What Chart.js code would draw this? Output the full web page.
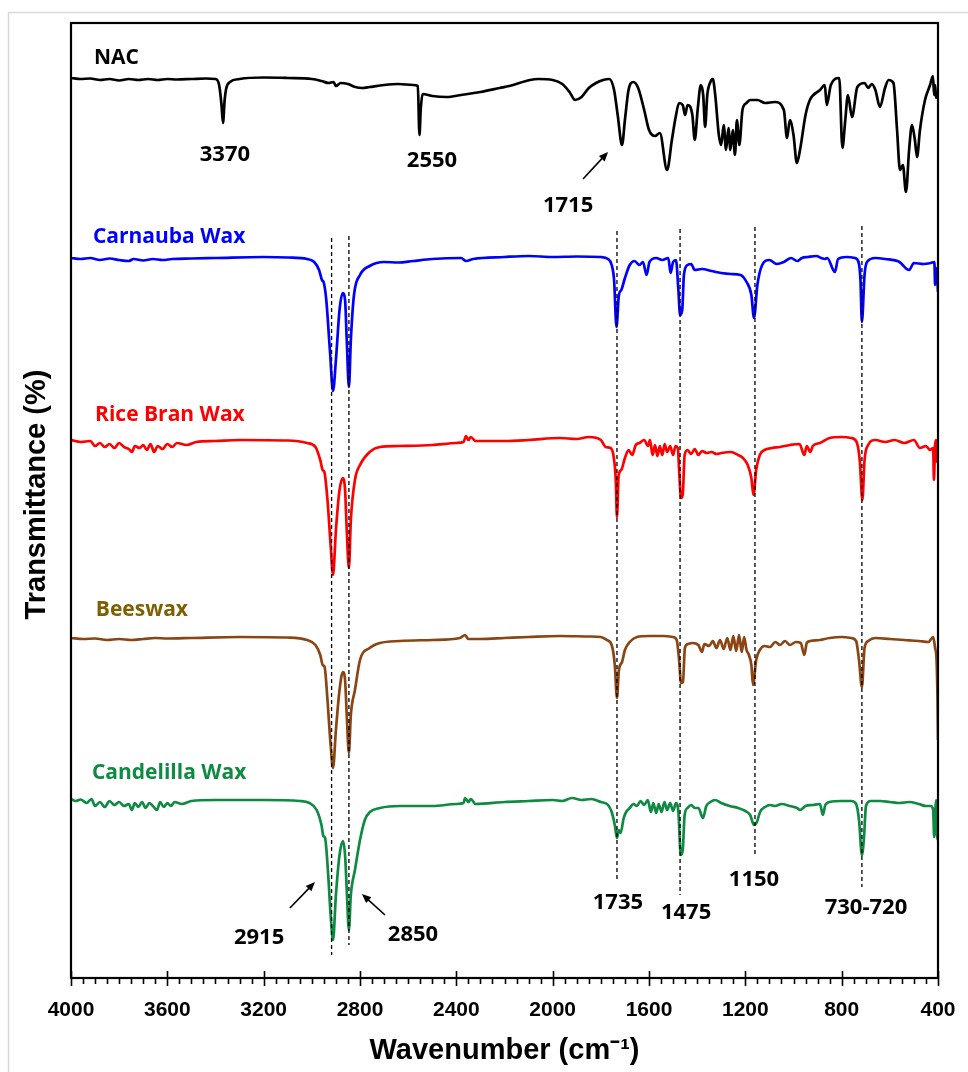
<!DOCTYPE html>
<html>
<head>
<meta charset="utf-8">
<script src="https://cdn.jsdelivr.net/npm/chart.js@4.4.1/dist/chart.umd.min.js"></script>
<style>
  html, body { margin: 0; padding: 0; background: #fff; }
  #wrap { width: 968px; height: 1072px; }
</style>
</head>
<body>
<div id="wrap"><canvas id="ftir" width="968" height="1072"></canvas></div>
<script>
// FTIR spectra, stacked (arbitrary transmittance units), [wavenumber, value]
const nac = [
  [4000,90.0],[3960,89.9],[3920,89.95],[3880,89.8],[3840,89.9],[3800,89.75],[3760,89.9],[3720,89.8],
  [3680,89.9],[3640,89.8],[3600,89.9],[3560,89.85],[3500,89.9],[3440,89.95],[3400,89.9],[3385,89.3],
  [3375,87.3],[3369,85.5],[3362,87.8],[3355,89.0],[3340,89.6],[3300,89.9],[3200,90.05],[3100,90.0],
  [3000,89.9],[2960,89.7],[2930,89.5],[2910,89.6],[2900,89.2],[2880,89.5],[2850,89.4],[2820,89.1],
  [2790,89.0],[2760,89.1],[2700,89.3],[2640,89.4],[2580,89.3],[2560,89.2],[2553,84.3],[2548,86.8],
  [2540,88.4],[2500,88.2],[2440,88.1],[2380,88.3],[2300,88.6],[2220,89.0],[2180,89.2],[2094,89.8],
  [2060,89.9],[2000,89.8],[1960,89.4],[1930,88.6],[1907,87.8],[1880,88.1],[1850,89.0],[1820,89.5],
  [1790,89.8],[1765,89.9],[1745,88.8],[1730,86.3],[1712,83.3],[1700,85.8],[1685,88.8],[1665,89.6],
  [1645,89.0],[1620,86.8],[1600,84.8],[1575,84.2],[1555,84.5],[1525,80.8],[1505,83.8],[1490,86.0],
  [1475,87.5],[1460,87.3],[1450,86.3],[1440,87.3],[1420,86.3],[1410,83.8],[1398,86.8],[1385,89.3],
  [1375,88.3],[1367,85.1],[1358,88.3],[1345,89.6],[1335,89.9],[1325,88.3],[1310,84.3],[1300,83.3],
  [1290,85.3],[1280,82.8],[1270,85.0],[1262,82.8],[1252,84.8],[1243,82.3],[1235,85.8],[1225,83.3],
  [1212,86.8],[1195,87.5],[1180,87.8],[1150,87.8],[1118,87.5],[1077,87.6],[1040,86.8],[1027,84.0],
  [1015,85.8],[1000,84.3],[986,81.5],[973,82.8],[950,86.3],[932,87.8],[890,88.8],[870,89.3],
  [862,87.3],[845,89.3],[810,90.0],[797,83.0],[785,85.8],[774,88.3],[757,86.1],[735,89.1],
  [705,89.5],[690,89.0],[675,89.4],[660,88.8],[641,87.1],[620,89.0],[605,89.8],[585,89.5],
  [570,84.8],[558,80.8],[546,81.3],[533,78.6],[520,82.8],[508,85.3],[496,83.8],[487,82.1],
  [475,84.8],[454,87.8],[433,89.3],[421,90.2],[416,88.3],[412,89.3],[408,88.0],[400,88.6]
];
const carnauba = [
  [4000,72.0],[3960,71.9],[3920,72.0],[3880,71.8],[3840,71.95],[3800,71.8],[3760,71.7],[3740,71.9],
  [3700,71.75],[3660,71.9],[3620,71.8],[3580,71.9],[3500,71.95],[3400,72.0],[3200,72.1],[3100,72.05],
  [3020,71.9],[2990,71.6],[2970,70.8],[2958,69.8],[2950,69.5],[2940,67.8],[2925,62.8],[2912,58.7],
  [2900,61.8],[2885,66.8],[2872,68.5],[2862,67.8],[2855,63.8],[2846,59.1],[2838,63.8],[2825,68.3],
  [2800,70.3],[2760,71.2],[2700,71.6],[2640,71.55],[2580,71.7],[2500,71.9],[2380,72.0],[2360,71.7],
  [2330,71.9],[2200,72.1],[2100,72.2],[2000,72.1],[1900,72.15],[1800,72.1],[1770,71.9],[1755,71.3],
  [1745,69.8],[1735,65.1],[1725,68.3],[1715,68.8],[1700,70.0],[1680,71.3],[1660,71.7],[1640,71.3],
  [1625,71.6],[1610,70.3],[1598,71.6],[1570,72.0],[1545,71.8],[1520,72.0],[1510,70.5],[1500,71.6],
  [1488,71.8],[1478,68.8],[1471,66.3],[1462,66.8],[1455,70.3],[1440,71.3],[1425,71.4],[1410,70.8],
  [1380,70.9],[1340,70.7],[1300,70.5],[1260,70.4],[1220,70.3],[1195,69.6],[1175,68.3],[1164,66.0],
  [1150,69.3],[1130,71.3],[1100,71.8],[1070,71.4],[1040,71.6],[1010,72.0],[985,71.7],[965,72.0],
  [940,72.1],[905,72.2],[885,72.0],[870,71.9],[860,72.0],[828,70.6],[815,71.9],[780,72.1],
  [745,72.0],[730,71.6],[722,69.8],[716,65.6],[705,70.3],[695,71.6],[660,72.0],[620,71.9],
  [560,71.6],[520,70.8],[500,71.5],[460,71.4],[430,71.5],[415,71.6],[412,69.3],[408,71.0],
  [404,70.3],[400,68.6]
];
const riceBran = [
  [4000,53.8],[3960,53.6],[3920,53.7],[3900,53.2],[3880,53.5],[3860,53.1],[3840,53.4],[3820,53.0],
  [3800,53.5],[3780,53.1],[3760,52.9],[3747,52.6],[3735,53.2],[3715,53.0],[3700,53.3],[3685,52.8],
  [3670,53.4],[3655,52.6],[3640,53.2],[3620,52.9],[3600,53.4],[3580,53.1],[3560,53.5],[3520,53.3],
  [3480,53.6],[3400,53.7],[3300,53.8],[3100,53.75],[3020,53.5],[2985,53.1],[2965,51.8],[2955,50.8],
  [2948,50.6],[2935,47.8],[2922,43.3],[2912,40.3],[2900,44.8],[2885,48.8],[2871,50.0],[2862,48.8],
  [2855,44.8],[2846,41.0],[2838,45.8],[2821,49.8],[2800,51.3],[2760,52.6],[2717,53.1],[2640,53.2],
  [2500,53.3],[2400,53.5],[2370,53.6],[2360,54.2],[2350,53.8],[2340,54.1],[2320,53.7],[2200,53.7],
  [2100,53.8],[1970,54.0],[1900,53.9],[1850,54.1],[1800,53.8],[1780,53.1],[1760,53.0],[1748,52.3],
  [1738,49.8],[1733,46.1],[1726,50.3],[1715,50.8],[1700,52.0],[1685,52.8],[1670,52.3],[1655,53.3],
  [1640,53.5],[1620,53.8],[1604,53.2],[1596,53.8],[1585,52.3],[1575,53.3],[1565,52.2],[1555,53.2],
  [1545,52.3],[1535,53.4],[1525,52.6],[1512,53.2],[1500,52.3],[1490,53.2],[1480,53.0],[1475,50.8],
  [1467,48.0],[1460,48.3],[1452,52.3],[1440,52.8],[1425,52.4],[1410,52.9],[1395,52.3],[1380,52.7],
  [1360,52.5],[1340,52.6],[1320,52.4],[1300,52.5],[1260,52.6],[1230,52.3],[1210,52.0],[1190,51.3],
  [1175,50.0],[1166,48.3],[1155,50.8],[1140,52.3],[1120,52.8],[1090,53.0],[1056,53.1],[1015,53.3],
  [975,53.4],[955,52.3],[945,53.2],[930,52.6],[920,53.2],[890,53.5],[850,54.0],[800,54.1],
  [760,54.0],[738,53.6],[725,51.8],[714,47.8],[705,51.8],[690,53.3],[660,53.8],[620,53.6],
  [580,53.8],[540,53.5],[500,53.8],[475,53.0],[450,53.2],[433,52.8],[420,53.0],[417,49.8],
  [412,53.3],[408,53.8],[404,51.6],[400,52.3]
];
const beeswax = [
  [4000,34.0],[3950,33.9],[3900,33.95],[3850,33.8],[3800,33.9],[3750,33.8],[3700,33.9],[3650,34.0],
  [3600,33.95],[3500,34.0],[3300,34.1],[3100,34.05],[3020,33.8],[2985,33.3],[2965,32.3],[2955,31.3],
  [2947,31.1],[2935,27.8],[2922,23.3],[2912,21.0],[2900,24.8],[2885,28.8],[2871,30.6],[2862,29.8],
  [2855,26.3],[2846,22.5],[2838,26.3],[2821,28.8],[2800,31.8],[2760,33.0],[2717,33.5],[2634,33.7],
  [2500,33.8],[2385,34.0],[2364,34.3],[2350,33.9],[2300,33.9],[2200,34.0],[2100,34.1],[1970,34.2],
  [1850,34.15],[1800,34.1],[1775,33.8],[1755,33.3],[1742,31.3],[1733,28.0],[1725,30.8],[1712,31.6],
  [1700,32.8],[1680,33.6],[1650,34.1],[1600,34.2],[1540,34.2],[1500,34.1],[1485,33.8],[1475,31.8],
  [1467,29.5],[1459,29.6],[1451,33.0],[1438,33.4],[1420,33.5],[1395,33.3],[1380,32.6],[1370,33.4],
  [1350,33.2],[1335,33.7],[1320,33.0],[1305,33.8],[1290,32.9],[1275,34.0],[1262,32.8],[1250,34.2],
  [1238,32.7],[1226,34.3],[1215,32.6],[1205,34.1],[1195,32.8],[1185,32.3],[1175,31.3],[1168,29.3],
  [1155,31.8],[1140,32.8],[1120,33.2],[1098,33.1],[1075,33.6],[1056,33.3],[1035,33.7],[1015,33.3],
  [990,33.6],[970,33.5],[955,32.3],[945,33.5],[930,33.7],[890,33.8],[850,34.0],[800,34.1],
  [760,34.0],[740,33.7],[728,31.8],[716,29.1],[705,33.0],[690,33.7],[660,34.0],[600,33.9],
  [540,33.8],[480,33.7],[440,33.6],[420,34.1],[412,33.0],[406,31.8],[402,27.8],[400,23.8]
];
const candelilla = [
  [4000,17.9],[3980,17.7],[3960,17.85],[3935,17.5],[3915,17.9],[3900,17.2],[3880,17.6],[3860,17.1],
  [3840,17.7],[3820,17.3],[3800,17.6],[3780,17.2],[3760,17.4],[3747,16.8],[3735,17.5],[3720,17.1],
  [3705,17.6],[3690,17.0],[3675,17.5],[3660,17.2],[3643,16.8],[3630,17.6],[3615,17.1],[3600,17.5],
  [3585,17.2],[3570,17.6],[3540,17.4],[3500,17.7],[3400,17.8],[3200,17.8],[3050,17.7],[3010,17.5],
  [2980,16.8],[2960,15.3],[2952,14.2],[2945,14.0],[2932,10.3],[2922,6.3],[2912,3.8],[2900,8.3],
  [2885,12.3],[2871,13.7],[2862,12.3],[2855,8.8],[2846,4.8],[2838,8.3],[2821,10.8],[2800,13.8],
  [2780,15.8],[2759,16.6],[2717,17.0],[2634,17.2],[2500,17.2],[2400,17.4],[2370,17.5],[2364,18.0],
  [2350,17.6],[2340,17.9],[2320,17.4],[2200,17.6],[2100,17.7],[2000,17.8],[1960,17.7],[1920,18.0],
  [1880,17.8],[1840,17.9],[1800,17.6],[1770,17.3],[1755,16.6],[1742,15.3],[1733,14.0],[1726,14.8],
  [1718,14.5],[1705,16.0],[1695,16.6],[1680,17.0],[1665,17.4],[1650,17.2],[1635,17.7],[1620,17.3],
  [1605,17.8],[1592,16.6],[1582,17.5],[1570,16.5],[1560,17.4],[1548,16.6],[1536,17.6],[1525,16.8],
  [1512,17.5],[1500,16.7],[1488,17.5],[1478,16.6],[1468,12.3],[1460,12.8],[1452,16.3],[1440,17.0],
  [1425,17.3],[1410,17.0],[1395,17.0],[1376,16.0],[1362,17.2],[1345,17.6],[1326,17.8],[1300,17.5],
  [1265,17.2],[1230,17.0],[1200,16.7],[1180,16.3],[1164,15.3],[1152,15.6],[1139,16.6],[1118,17.1],
  [1098,17.3],[1077,17.2],[1050,17.4],[1015,17.2],[985,17.0],[973,16.8],[950,17.2],[920,17.3],
  [890,17.4],[878,16.3],[868,17.3],[850,17.6],[800,17.7],[760,17.7],[740,17.4],[728,15.8],
  [716,12.3],[708,13.8],[699,17.2],[680,17.7],[640,17.7],[600,17.6],[560,17.5],[520,17.6],
  [480,17.4],[450,17.2],[430,17.2],[420,16.8],[416,14.1],[412,16.3],[408,17.8],[404,14.3],[400,13.8]
];

const seriesNames = ['NAC', 'Carnauba Wax', 'Rice Bran Wax', 'Beeswax', 'Candelilla Wax'];
const seriesData = [nac, carnauba, riceBran, beeswax, candelilla];
const lineColors = ['#000000', '#0000ff', '#ff0000', '#8b4513', '#0e8a43'];
const labelColors = ['#000000', '#0000ff', '#ff0000', '#7f6000', '#0e8a43'];

const xTicks = [4000, 3600, 3200, 2800, 2400, 2000, 1600, 1200, 800, 400];

// band markers: [wavenumber, top, bottom]
const bandLines = [[2918, 74.0, 2.3], [2846, 74.2, 3.3], [1733, 74.7, 9.8], [1471, 74.9, 8.3], [1160, 75.1, 12.3], [716, 75.2, 9.1]];
// peak labels: [text, wavenumber, value]
const peakLabels = [
  ['3370', 3361, 82.3], ['2550', 2501, 81.7], ['1715', 1936, 77.2],
  ['2915', 3219, 4.0], ['2850', 2580, 4.3], ['1735', 1729, 7.5],
  ['1475', 1446, 6.5], ['1150', 1164, 9.8], ['730-720', 699, 7.0]
];
// series name positions: [wavenumber, value]
const nameSpots = [[3905, 92.0], [3909, 74.1], [3900, 56.3], [3897, 36.8], [3913, 20.5]];
// arrows: [fromWn, fromV, toWn, toV]
const arrows = [[1874, 79.9, 1770, 82.6], [3091, 7.0, 2987, 9.6], [2696, 6.3, 2792, 8.4]];

const datasets = [];
bandLines.forEach(b => datasets.push({
  data: [{x: b[0], y: b[1]}, {x: b[0], y: b[2]}],
  borderColor: '#000', borderWidth: 1.3, borderDash: [4, 3], pointRadius: 0
}));
seriesData.forEach((s, i) => datasets.push({
  label: seriesNames[i],
  data: s.map(p => ({x: p[0], y: p[1]})),
  borderColor: lineColors[i], borderWidth: 2.7, pointRadius: 0,
  cubicInterpolationMode: 'monotone'
}));

const decor = {
  id: 'decor',
  beforeDraw(chart) {
    const c = chart.ctx;
    c.save();
    c.strokeStyle = '#d9d9d9';
    c.lineWidth = 1.5;
    c.beginPath();
    c.moveTo(8.5, 1072); c.lineTo(8.5, 12.5); c.lineTo(968, 12.5);
    c.stroke();
    c.restore();
  },
  afterDraw(chart) {
    const c = chart.ctx, a = chart.chartArea, x = chart.scales.x, y = chart.scales.y;
    c.save();
    c.strokeStyle = '#000';
    c.lineWidth = 2.2;
    c.strokeRect(a.left, a.top, a.right - a.left, a.bottom - a.top);
    c.beginPath();
    for (let w = 400; w <= 4000; w += 50) {
      const px = Math.round(x.getPixelForValue(w)) + 0.5;
      const major = w % 400 === 0;
      c.moveTo(px, major ? a.bottom - 7 : a.bottom);
      c.lineTo(px, a.bottom + (major ? 8 : 6));
    }
    c.lineWidth = 1.6;
    c.stroke();

    c.textBaseline = 'middle';
    c.font = 'bold 21px "Open Sans"';
    c.textAlign = 'left';
    nameSpots.forEach((p, i) => {
      c.fillStyle = labelColors[i];
      c.fillText(seriesNames[i], x.getPixelForValue(p[0]), y.getPixelForValue(p[1]));
    });
    c.fillStyle = '#000';
    c.textAlign = 'center';
    c.font = 'bold 22px "Open Sans"';
    peakLabels.forEach(p => c.fillText(p[0], x.getPixelForValue(p[1]), y.getPixelForValue(p[2])));

    c.lineWidth = 1.6;
    arrows.forEach(r => {
      const x0 = x.getPixelForValue(r[0]), y0 = y.getPixelForValue(r[1]);
      const x1 = x.getPixelForValue(r[2]), y1 = y.getPixelForValue(r[3]);
      const ang = Math.atan2(y1 - y0, x1 - x0);
      c.beginPath(); c.moveTo(x0, y0); c.lineTo(x1 - 6 * Math.cos(ang), y1 - 6 * Math.sin(ang)); c.stroke();
      c.beginPath();
      c.moveTo(x1, y1);
      c.lineTo(x1 - 10 * Math.cos(ang - 0.4), y1 - 10 * Math.sin(ang - 0.4));
      c.lineTo(x1 - 10 * Math.cos(ang + 0.4), y1 - 10 * Math.sin(ang + 0.4));
      c.closePath(); c.fill();
    });

    c.translate(37, (a.top + a.bottom) / 2 - 6);
    c.rotate(-Math.PI / 2);
    c.font = 'bold 29px "Liberation Sans"';
    c.fillText('Transmittance (%)', 0, 0);
    c.restore();
  }
};

new Chart(document.getElementById('ftir'), {
  type: 'line',
  data: { datasets },
  options: {
    responsive: false,
    animation: false,
    layout: { padding: { left: 71, right: 30, top: 23, bottom: 0 } },
    plugins: { legend: { display: false }, tooltip: { enabled: false } },
    scales: {
      x: {
        type: 'linear', reverse: true, min: 400, max: 4000,
        grid: { display: false }, border: { display: false },
        ticks: {
          stepSize: 400, autoSkip: false, maxRotation: 0, padding: 12,
          color: '#000', font: { family: 'Liberation Sans', size: 21, weight: 'bold' },
          callback: v => xTicks.includes(v) ? String(v) : ''
        },
        title: {
          display: true, text: 'Wavenumber (cm\u207B\u00B9)', color: '#000',
          font: { family: 'Liberation Sans', size: 29, weight: 'bold' },
          padding: { top: 0, bottom: 4 }
        },
        afterFit: s => { s.height = 94; }
      },
      y: { display: false, min: 0, max: 95.5 }
    }
  },
  plugins: [decor]
});
</script>
</body>
</html>
